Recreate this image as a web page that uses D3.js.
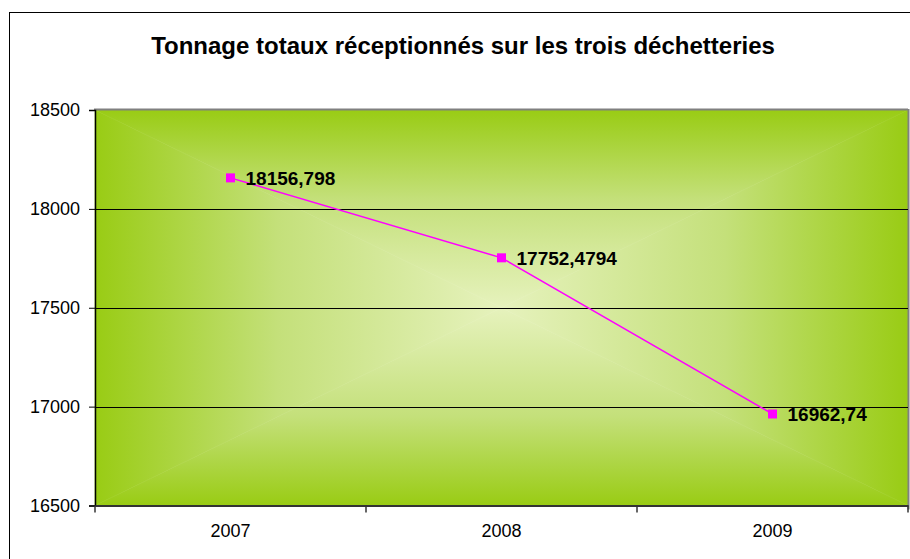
<!DOCTYPE html>
<html><head><meta charset="utf-8">
<script src="https://cdn.jsdelivr.net/npm/d3@7"></script>
<style>body{margin:0;background:#fff}svg{display:block}</style>
</head><body>
<script>
const title = "Tonnage totaux réceptionnés sur les trois déchetteries";
const categories = ["2007", "2008", "2009"];
const values = [18156.798, 17752.4794, 16962.74];
const valueLabels = ["18156,798", "17752,4794", "16962,74"];
const yTicks = [16500, 17000, 17500, 18000, 18500];

const W = 910, H = 559;
const FONT = "Liberation Sans, Arial, sans-serif";
const svg = d3.select("body").append("svg").attr("width", W).attr("height", H);
const m = {left: 95, right: 908, top: 110, bottom: 505.5};

// outer border
svg.append("rect").attr("x", 9.5).attr("y", 12.5).attr("width", W).attr("height", H)
  .attr("fill", "#fff").attr("stroke", "#000").attr("stroke-width", 1);

svg.append("text").attr("x", 463).attr("y", 54).attr("text-anchor", "middle")
  .attr("font-family", FONT).attr("font-weight", "bold")
  .attr("font-size", 24).text(title);

const x = d3.scaleBand().domain(categories).range([m.left, m.right]);
const y = d3.scaleLinear().domain([16500, 18500]).range([m.bottom, m.top]);

// rectangular "from centre" gradient via four triangles
const defs = svg.append("defs");
const edge = "#99cc14", mid = "#c4e07a", center = "#e6f2bd";
const cx = (m.left + m.right) / 2, cy = (m.top + m.bottom) / 2;
const sides = [
  {id: "gT", x1: 0, y1: 0, x2: 0, y2: 1, pts: [[m.left, m.top], [m.right, m.top], [cx, cy]]},
  {id: "gB", x1: 0, y1: 1, x2: 0, y2: 0, pts: [[m.left, m.bottom], [m.right, m.bottom], [cx, cy]]},
  {id: "gL", x1: 0, y1: 0, x2: 1, y2: 0, pts: [[m.left, m.top], [m.left, m.bottom], [cx, cy]]},
  {id: "gR", x1: 1, y1: 0, x2: 0, y2: 0, pts: [[m.right, m.top], [m.right, m.bottom], [cx, cy]]}
];
sides.forEach(s => {
  const g = defs.append("linearGradient").attr("id", s.id)
    .attr("x1", s.x1).attr("y1", s.y1).attr("x2", s.x2).attr("y2", s.y2);
  g.append("stop").attr("offset", 0).attr("stop-color", edge);
  g.append("stop").attr("offset", 0.45).attr("stop-color", mid);
  g.append("stop").attr("offset", 1).attr("stop-color", center);
  svg.append("polygon").attr("points", s.pts.map(p => p.join(",")).join(" "))
    .attr("fill", `url(#${s.id})`).attr("stroke", `url(#${s.id})`).attr("stroke-width", 0.6);
});

// plot area frame: gray top/right
svg.append("line").attr("x1", m.left - 1).attr("x2", m.right).attr("y1", m.top - 0.5).attr("y2", m.top - 0.5)
  .attr("stroke", "#808080").attr("stroke-width", 2);
svg.append("line").attr("x1", m.right + 0.5).attr("x2", m.right + 0.5).attr("y1", m.top - 1).attr("y2", m.bottom + 4)
  .attr("stroke", "#808080").attr("stroke-width", 2);

// gridlines
svg.append("g").selectAll("line").data(yTicks.filter(t => t > 16500 && t < 18500)).join("line")
  .attr("x1", m.left).attr("x2", m.right).attr("y1", d => Math.round(y(d)) + 0.5).attr("y2", d => Math.round(y(d)) + 0.5)
  .attr("stroke", "#000").attr("stroke-width", 1);

// axes
const yAxis = d3.axisLeft(y).tickValues(yTicks).tickSize(6).tickPadding(9).tickFormat(d3.format("d"));
const gy = svg.append("g").attr("transform", `translate(${m.left},0)`).call(yAxis);
const xAxis = d3.axisBottom(x).tickSize(0).tickPadding(19);
const gx = svg.append("g").attr("transform", `translate(0,${m.bottom})`).call(xAxis);
[gy, gx].forEach(g => {
  g.select(".domain").attr("stroke", "#000").attr("stroke-width", 1.5);
  g.selectAll("text").attr("font-family", FONT).attr("font-size", 18).attr("fill", "#000");
  g.selectAll(".tick line").attr("stroke", "#000");
});
gx.select(".domain").attr("stroke", "#333").attr("stroke-width", 2);
// category boundary ticks
const bounds = categories.map(c => x(c)).concat([m.right]);
svg.append("g").selectAll("line").data(bounds).join("line")
  .attr("x1", d => d).attr("x2", d => d).attr("y1", m.bottom).attr("y2", m.bottom + 7)
  .attr("stroke", "#333").attr("stroke-width", 1.5);

// line + markers
const px = c => x(c) + x.bandwidth() / 2;
const line = d3.line().x((d, i) => px(categories[i])).y(d => y(d));
svg.append("path").attr("d", line(values)).attr("fill", "none").attr("stroke", "#ff00ff").attr("stroke-width", 1.5);
svg.append("g").selectAll("rect").data(values).join("rect")
  .attr("x", (d, i) => px(categories[i]) - 4.5).attr("y", d => y(d) - 4.5)
  .attr("width", 9).attr("height", 9).attr("fill", "#ff00ff");
svg.append("g").selectAll("text").data(values).join("text")
  .attr("x", (d, i) => px(categories[i]) + 15).attr("y", d => y(d) + 7)
  .attr("font-family", FONT).attr("font-weight", "bold").attr("font-size", 19)
  .attr("fill", "#000").text((d, i) => valueLabels[i]);
</script>
</body></html>
